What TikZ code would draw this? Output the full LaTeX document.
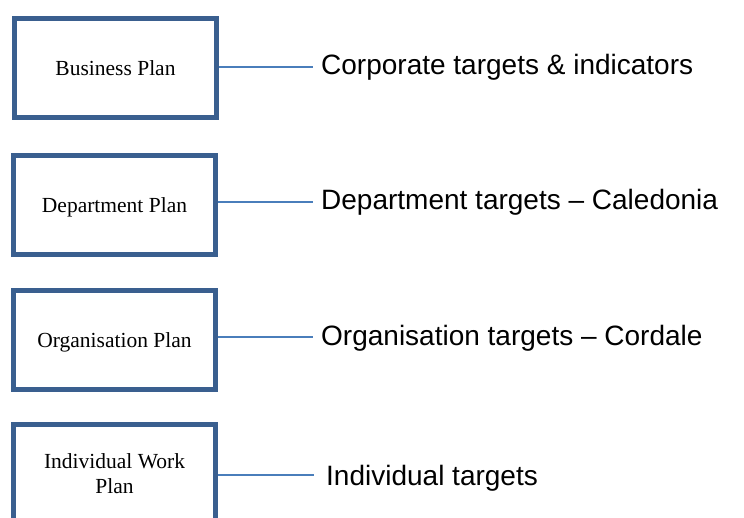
\documentclass[tikz,border=0pt]{standalone}
\usepackage{fontspec}
\usepackage{tikz}
\usetikzlibrary{positioning}
\newfontfamily\planfont{Liberation Serif}
\newfontfamily\tagfont{Liberation Sans}
\definecolor{planframe}{RGB}{58,95,143}
\definecolor{planlink}{RGB}{74,126,187}
\tikzset{
plan/.style={draw=planframe, line width=5pt, minimum width=202pt, minimum height=99pt,
  inner sep=0pt, font=\planfont\fontsize{21.5}{25}\selectfont, align=center},
plantext/.style={text height=15pt, text depth=0pt},
tag/.style={font=\tagfont\fontsize{28}{32}\selectfont, text height=20pt, text depth=4pt,
  inner sep=0pt, anchor=west},
link/.style={draw=planlink, line width=1.8pt}
}
\begin{document}
\begin{tikzpicture}[x=1pt,y=-1pt]
\useasboundingbox (0,0) rectangle (744,518);
\node[plan, plantext] (bp) at (115.5,68) {Business Plan};
\node[plan, plantext] (dp) at (114.5,205) {Department Plan};
\node[plan, plantext] (op) at (114.5,340) {Organisation Plan};
\node[plan] (iwp) at (114.5,474) {Individual Work\\Plan};
\coordinate (ct) at (313,67);
\coordinate (dt) at (313,202);
\coordinate (ot) at (313,337);
\coordinate (it) at (314,475);
\node[tag, right=8pt of ct] (ctlab) {Corporate targets \& indicators};
\node[tag, right=8pt of dt] (dtlab) {Department targets – Caledonia};
\node[tag, right=8pt of ot] (otlab) {Organisation targets – Cordale};
\node[tag, right=12pt of it, yshift=-2pt] (itlab) {Individual targets};
\draw[link] (bp.east |- ct) -- (ct);
\draw[link] (dp.east |- dt) -- (dt);
\draw[link] (op.east |- ot) -- (ot);
\draw[link] (iwp.east |- it) -- (it);
\end{tikzpicture}
\end{document}
